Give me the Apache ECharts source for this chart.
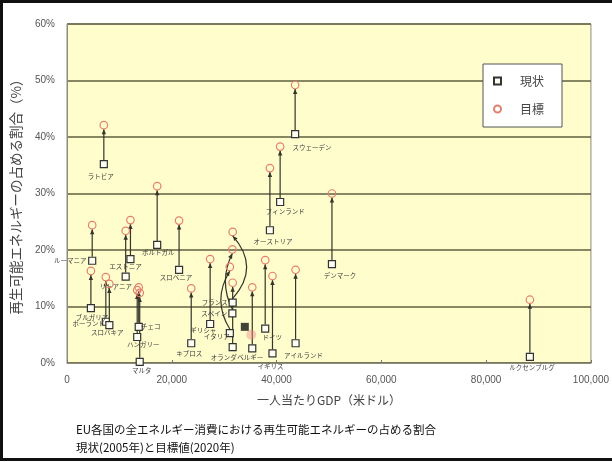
<!DOCTYPE html>
<html>
<head>
<meta charset="utf-8">
<script src="https://cdn.jsdelivr.net/npm/echarts@6/dist/echarts.min.js"></script>
<style>
  html, body { margin: 0; padding: 0; background: #fff; }
  #chart { width: 612px; height: 462px; }
</style>
</head>
<body>
<div id="chart"></div>
<script>
// EU member states: GDP per capita (USD), renewable share 2005 (%) and 2020 target (%)
const countries = ['ラトビア', 'スウェーデン', 'フィンランド', 'オーストリア', 'デンマーク', 'ルクセンブルグ',
  'アイルランド', 'ドイツ', 'イギリス', 'ベルギー', 'オランダ', 'イタリア', 'スペイン', 'フランス',
  'ギリシャ', 'キプロス', 'スロベニア', 'ポルトガル', 'エストニア', 'リトアニア', 'ルーマニア',
  'ブルガリア', 'ポーランド', 'スロバキア', 'チェコ', 'ハンガリー', 'マルタ'];
const gdpPerCapita = [7030, 43540, 40680, 38730, 50570, 88350,
  43630, 37830, 39220, 35360, 31620, 31080, 31560, 31620,
  27320, 23710, 21390, 17210, 12110, 11200, 4810,
  4560, 7410, 8080, 13690, 13400, 13880];
const share2005 = [35.2, 40.5, 28.5, 23.5, 17.5, 1.1,
  3.5, 6.1, 1.7, 2.6, 2.8, 5.3, 8.8, 10.7,
  6.9, 3.5, 16.5, 20.9, 18.4, 15.3, 18.1,
  9.7, 7.3, 6.7, 6.4, 4.6, 0.2];
const target2020 = [42.1, 49.2, 38.3, 34.5, 30.0, 11.2,
  16.5, 18.2, 15.4, 13.4, 14.2, 17.0, 20.1, 23.2,
  18.4, 13.2, 25.2, 31.3, 25.3, 23.4, 24.4,
  16.3, 15.2, 14.0, 13.4, 12.9, 12.4];

// highlighted reference marker (current / goal)
const markerNow = [[33940, 6.4]];
const markerGoal = [[35170, 5.0]];

// axis ticks
const yTicks = [0, 10, 20, 30, 40, 50, 60];
const xTicks = [0, 20000, 40000, 60000, 80000, 100000];

// name-label placement (text centre relative to the square, px)
const labelOffset = {
  'ラトビア': [-3, 12], 'スウェーデン': [17, 13], 'フィンランド': [5, 10], 'オーストリア': [3, 11],
  'デンマーク': [8, 11], 'ルクセンブルグ': [2, 10.5], 'アイルランド': [8, 12], 'ドイツ': [7, 9],
  'イギリス': [-2, 13], 'ベルギー': [-2, 9], 'オランダ': [-9, 10], 'イタリア': [-13, 3],
  'スペイン': [-18, 0], 'フランス': [-18, 0], 'ギリシャ': [-7, 7], 'キプロス': [-2, 10],
  'スロベニア': [-3, 8], 'ポルトガル': [1, 8], 'エストニア': [-5, 7.5], 'リトアニア': [-10, 10],
  'ルーマニア': [-22, 0], 'ブルガリア': [1, 9], 'ポーランド': [-17, 2], 'スロバキア': [-2, 7.5],
  'チェコ': [12, 0], 'ハンガリー': [6, 8], 'マルタ': [2, 9]
};
// connectors drawn as curves inside the crowded cluster (horizontal bow, px)
const curveBend = { 'フランス': 14, 'スペイン': -7, 'イタリア': -9 };

const LINE = '#35352a';
const JP = '"Noto Sans CJK JP", "Noto Sans", sans-serif';

function renderArrow(params, api) {
  const name = countries[params.dataIndex];
  const x = api.value(0);
  const a = api.coord([x, api.value(1)]);
  const b = api.coord([x, api.value(2)]);
  const sx = a[0], sy = a[1] - 4;
  const ex = b[0], ey = b[1] + 4;
  const bend = curveBend[name] || 0;
  const style = { stroke: LINE, lineWidth: 1.2, fill: null };
  let path, dx, dy;
  if (bend) {
    const cx = (sx + ex) / 2 + bend * 2, cy = (sy + ey) / 2;
    path = { type: 'bezierCurve', shape: { x1: sx, y1: sy, x2: ex, y2: ey, cpx1: cx, cpy1: cy }, style };
    dx = ex - cx; dy = ey - cy;
  } else {
    path = { type: 'line', shape: { x1: sx, y1: sy, x2: ex, y2: ey }, style };
    dx = 0; dy = ey - sy;
  }
  const len = Math.hypot(dx, dy) || 1;
  const ux = dx / len, uy = dy / len;
  const L = 5, W = 2.2;
  const bx = ex - ux * L, by = ey - uy * L;
  const head = {
    type: 'polygon',
    shape: { points: [[ex, ey], [bx - uy * W, by + ux * W], [bx + uy * W, by - ux * W]] },
    style: { fill: LINE }
  };
  return { type: 'group', children: [path, head] };
}

const chart = echarts.init(document.getElementById('chart'), null, { renderer: 'canvas' });

chart.setOption({
  animation: false,
  backgroundColor: '#ffffff',
  textStyle: { fontFamily: JP },
  title: {
    text: 'EU各国の全エネルギー消費における再生可能エネルギーの占める割合\n現状(2005年)と目標値(2020年)',
    left: 71,
    top: 416,
    textStyle: { fontSize: 11.5, fontWeight: 'normal', color: '#111', lineHeight: 18, fontFamily: JP }
  },
  graphic: [{
    type: 'rect',
    shape: { x: 1.5, y: 1.5, width: 640, height: 458 },
    style: { fill: null, stroke: '#111', lineWidth: 3 },
    z: 100
  }],
  legend: {
    orient: 'vertical',
    left: 483,
    top: 64,
    padding: [11, 18, 12, 10],
    itemGap: 16,
    itemWidth: 7,
    itemHeight: 7,
    backgroundColor: '#ffffff',
    borderColor: '#555',
    borderWidth: 1,
    textStyle: { fontSize: 12, color: '#444', padding: [0, 0, 0, 14], fontFamily: JP },
    data: [{ name: '現状', icon: 'rect' }, { name: '目標', icon: 'circle' }]
  },
  grid: {
    left: 67, right: 19, top: 24, bottom: 99,
    show: true,
    backgroundColor: '#fffdcc',
    borderColor: '#8c8c7c',
    borderWidth: 1
  },
  xAxis: {
    type: 'value',
    min: xTicks[0],
    max: xTicks[xTicks.length - 1],
    interval: xTicks[1] - xTicks[0],
    name: '一人当たりGDP（米ドル）',
    nameLocation: 'middle',
    nameGap: 31,
    nameTextStyle: { fontSize: 12, color: '#444', fontFamily: JP },
    axisLine: { lineStyle: { color: '#8c8c7c' } },
    axisTick: { show: true, inside: true, length: 3, lineStyle: { color: '#777' } },
    splitLine: { show: false },
    axisLabel: {
      margin: 12, fontSize: 10, color: '#555', fontFamily: '"Liberation Sans", Arial, sans-serif',
      formatter: v => v.toLocaleString('en-US')
    }
  },
  yAxis: {
    type: 'value',
    min: yTicks[0],
    max: yTicks[yTicks.length - 1],
    interval: yTicks[1] - yTicks[0],
    name: '再生可能エネルギーの占める割合（%）',
    nameLocation: 'middle',
    nameRotate: 90,
    nameGap: 44,
    nameTextStyle: { fontSize: 13.5, color: '#444', fontFamily: JP },
    axisLine: { show: true, lineStyle: { color: '#8c8c7c' } },
    axisTick: { show: false },
    splitLine: { show: true, lineStyle: { color: '#5f5f40', width: 1.5 } },
    axisLabel: {
      margin: 12, fontSize: 10, color: '#555', fontFamily: '"Liberation Sans", Arial, sans-serif',
      formatter: '{value}%'
    }
  },
  series: [
    {
      name: 'arrows',
      type: 'custom',
      renderItem: renderArrow,
      encode: { x: 0, y: [1, 2] },
      data: countries.map((c, i) => [gdpPerCapita[i], share2005[i], target2020[i]]),
      z: 2,
      silent: true
    },
    {
      name: '現状',
      type: 'scatter',
      symbol: 'rect',
      symbolSize: 7,
      itemStyle: { color: '#fffef2', borderColor: '#333', borderWidth: 1.2, opacity: 1 },
      label: {
        show: true,
        position: 'inside',
        formatter: '{b}',
        fontSize: 6.5,
        color: '#3a3a3a',
        fontFamily: JP
      },
      data: countries.map((c, i) => ({
        name: c,
        value: [gdpPerCapita[i], share2005[i]],
        label: { offset: labelOffset[c] }
      })),
      z: 4
    },
    {
      name: '目標',
      type: 'scatter',
      symbol: 'circle',
      symbolSize: 7.5,
      itemStyle: { color: 'rgba(255,255,255,0)', borderColor: '#e3806f', borderWidth: 1.2, opacity: 1 },
      data: countries.map((c, i) => ({ name: c, value: [gdpPerCapita[i], target2020[i]] })),
      z: 5
    },
    {
      name: 'markerGoal',
      type: 'scatter',
      symbol: 'circle',
      symbolSize: 10,
      itemStyle: { color: 'rgba(240,140,140,0.55)' },
      data: markerGoal,
      z: 3
    },
    {
      name: 'markerNow',
      type: 'scatter',
      symbol: 'rect',
      symbolSize: 8,
      itemStyle: { color: '#111' },
      data: markerNow,
      z: 4
    }
  ]
});
</script>
</body>
</html>
